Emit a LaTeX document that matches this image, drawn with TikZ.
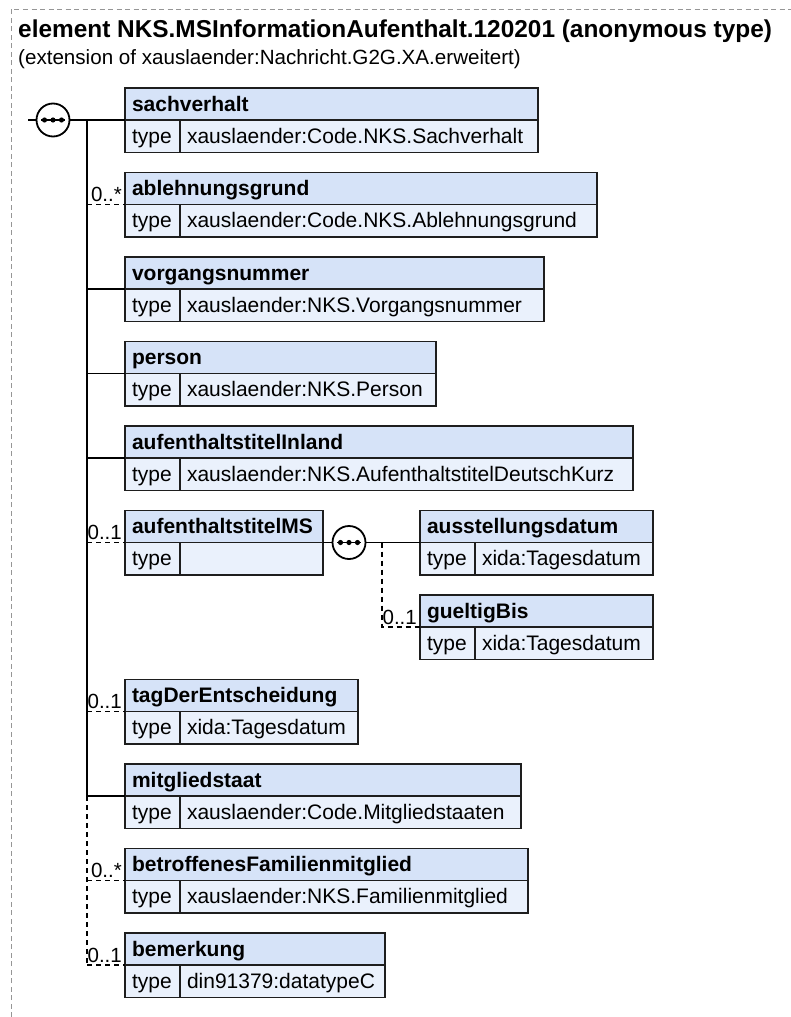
\documentclass[tikz,border=0pt]{standalone}
\usepackage{fontspec}
\setmainfont{Liberation Sans}
\usetikzlibrary{positioning}
\definecolor{hdrfill}{RGB}{214,227,248}
\definecolor{typfill}{RGB}{234,241,252}
\definecolor{boxline}{RGB}{30,30,30}
\definecolor{framegray}{RGB}{150,150,150}
\begin{document}
\begin{tikzpicture}[x=1pt, y=-1pt,
    hdr/.style={draw=boxline, fill=hdrfill, line width=1.6pt, outer sep=0pt, anchor=north west,
        minimum height=32pt, inner xsep=7pt, inner ysep=0pt, text height=17pt, text depth=3pt,
        align=left, text width=#1pt, font=\bfseries\fontsize{21}{24}\selectfont},
    typ/.style={draw=boxline, fill=typfill, line width=1.6pt, outer sep=0pt, anchor=north west,
        minimum height=32.5pt, inner xsep=7pt, inner ysep=0pt, text height=17pt, text depth=3pt,
        align=left, text width=41pt, font=\fontsize{21}{24}\selectfont},
    val/.style={typ, text width=#1pt},
    seq/.style={circle, draw=black, fill=white, line width=1.8pt, minimum size=33pt, inner sep=0pt, outer sep=0pt},
    link/.style={line width=1.3pt},
    optlink/.style={link, dash pattern=on 5pt off 4pt},
    mult/.style={inner sep=0pt, anchor=base east, font=\fontsize{20.5}{22}\selectfont}]
    \useasboundingbox (0,0) rectangle (791,1017);
    % outer frame and heading
    \draw[framegray, line width=1pt, dash pattern=on 5pt off 3.5pt] (11,1017) -- (11,9) -- (791,9);
    \node[anchor=base west, inner sep=0pt, font=\bfseries\fontsize{24.4}{28}\selectfont] (title) at (18,37) {element NKS.MSInformationAufenthalt.120201 (anonymous type)};
    \node[anchor=base west, inner sep=0pt, font=\fontsize{20.6}{24}\selectfont] (subtitle) at (18,64) {(extension of xauslaender:Nachricht.G2G.XA.erweitert)};

    % child elements
    \node[hdr=399] (sach) at (125,88) {sachverhalt};
    \node[typ] (sach-t) at (sach.south west) {type};
    \node[val=344] (sach-v) at (sach-t.north east) {xauslaender:Code.NKS.Sachverhalt};

    \node[hdr=458] (abl) at (125,172.5) {ablehnungsgrund};
    \node[typ] (abl-t) at (abl.south west) {type};
    \node[val=403] (abl-v) at (abl-t.north east) {xauslaender:Code.NKS.Ablehnungsgrund};

    \node[hdr=405] (vorg) at (125,257) {vorgangsnummer};
    \node[typ] (vorg-t) at (vorg.south west) {type};
    \node[val=350] (vorg-v) at (vorg-t.north east) {xauslaender:NKS.Vorgangsnummer};

    \node[hdr=297] (pers) at (125,341.5) {person};
    \node[typ] (pers-t) at (pers.south west) {type};
    \node[val=242] (pers-v) at (pers-t.north east) {xauslaender:NKS.Person};

    \node[hdr=494] (inl) at (125,426) {aufenthaltstitelInland};
    \node[typ] (inl-t) at (inl.south west) {type};
    \node[val=439] (inl-v) at (inl-t.north east) {xauslaender:NKS.AufenthaltstitelDeutschKurz};

    \node[hdr=184] (ms) at (125,510.5) {aufenthaltstitelMS};
    \node[typ] (ms-t) at (ms.south west) {type};
    \node[val=129] (ms-v) at (ms-t.north east) {};

    \node[hdr=219] (ausst) at (420,510.5) {ausstellungsdatum};
    \node[typ] (ausst-t) at (ausst.south west) {type};
    \node[val=164] (ausst-v) at (ausst-t.north east) {xida:Tagesdatum};

    \node[hdr=219] (guelt) at (420,595) {gueltigBis};
    \node[typ] (guelt-t) at (guelt.south west) {type};
    \node[val=164] (guelt-v) at (guelt-t.north east) {xida:Tagesdatum};

    \node[hdr=219] (tag) at (125,679.5) {tagDerEntscheidung};
    \node[typ] (tag-t) at (tag.south west) {type};
    \node[val=164] (tag-v) at (tag-t.north east) {xida:Tagesdatum};

    \node[hdr=382] (mitgl) at (125,764) {mitgliedstaat};
    \node[typ] (mitgl-t) at (mitgl.south west) {type};
    \node[val=327] (mitgl-v) at (mitgl-t.north east) {xauslaender:Code.Mitgliedstaaten};

    \node[hdr=389] (betr) at (125,848.5) {betroffenesFamilienmitglied};
    \node[typ] (betr-t) at (betr.south west) {type};
    \node[val=334] (betr-v) at (betr-t.north east) {xauslaender:NKS.Familienmitglied};

    \node[hdr=246] (bem) at (125,933) {bemerkung};
    \node[typ] (bem-t) at (bem.south west) {type};
    \node[val=191] (bem-v) at (bem-t.north east) {din91379:datatypeC};

    % sequence compositors
    \coordinate (root) at (28,120);
    \node[seq] (seq1) at (53,120) {};
    \coordinate (trunk) at (87,120);
    \node[seq] (seq2) at ([xshift=26pt]ms.south east) {};
    \coordinate (branch) at ([xshift=33pt]seq2.center);
    \foreach \s in {seq1,seq2} {
        \draw[line width=1.4pt] ([xshift=-12pt]\s.center) -- ([xshift=12pt]\s.center);
        \foreach \dx in {-8.5,0,8.5}
            \fill ([xshift=\dx pt]\s.center) circle (2.6pt);
    }

    % connectors
    \draw[link] (root) -- (seq1);
    \draw[link] (seq1) -- (sach.south west);
    \draw[link] (trunk) -- (trunk |- mitgl.south west);
    \draw[optlink] (trunk |- mitgl.south west) -- (trunk |- bem.south west);
    \draw[optlink] (trunk |- abl.south west) -- (abl.south west);
    \draw[link] (trunk |- vorg.south west) -- (vorg.south west);
    \draw[link] (trunk |- pers.south west) -- (pers.south west);
    \draw[link] (trunk |- inl.south west) -- (inl.south west);
    \draw[optlink] (trunk |- ms.south west) -- (ms.south west);
    \draw[optlink] (trunk |- tag.south west) -- (tag.south west);
    \draw[link] (trunk |- mitgl.south west) -- (mitgl.south west);
    \draw[optlink] (trunk |- betr.south west) -- (betr.south west);
    \draw[optlink] (trunk |- bem.south west) -- (bem.south west);
    \draw[link] (ms.south east) -- (seq2);
    \draw[link] (seq2) -- (ausst.south west);
    \draw[optlink] (branch) -- (branch |- guelt.south west) -- (guelt.south west);

    % occurrence labels
    \node[mult] (abl-m) at ([shift={(-3,-3)}]abl.south west) {0..*};
    \node[mult] (ms-m) at ([shift={(-3,-3)}]ms.south west) {0..1};
    \node[mult] (guelt-m) at ([shift={(-3,-3)}]guelt.south west) {0..1};
    \node[mult] (tag-m) at ([shift={(-3,-3)}]tag.south west) {0..1};
    \node[mult] (betr-m) at ([shift={(-3,-3)}]betr.south west) {0..*};
    \node[mult] (bem-m) at ([shift={(-3,-3)}]bem.south west) {0..1};
\end{tikzpicture}
\end{document}
